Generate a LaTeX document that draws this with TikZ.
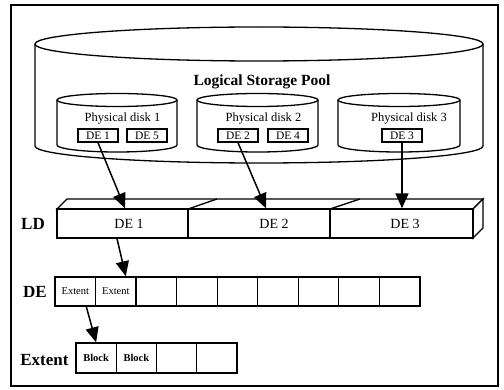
\documentclass[tikz,border=0pt]{standalone}
\usepackage{fontspec}
\setmainfont{Liberation Serif}
\usetikzlibrary{arrows.meta}
\begin{document}
\begin{tikzpicture}[x=1pt,y=-1pt,
        thin line/.style={line width=1.3pt},
        debox/.style={draw,line width=1.4pt,fill=white,inner sep=0pt,minimum width=40pt,minimum height=13pt,font=\fontsize{11.5}{11.5}\selectfont},
        cell/.style={draw,line width=1.3pt,fill=white,inner sep=0pt,minimum width=40.55pt,minimum height=29pt,font=\fontsize{10.5}{10.5}\selectfont},
        blk/.style={cell,minimum width=40.25pt,minimum height=30pt},
        ldcell/.style={draw,line width=1.3pt,fill=white,inner sep=0pt,minimum height=29pt},
        ptr/.style={line width=1.5pt,-{Triangle[length=15pt,width=13pt]}},
        big/.style={font=\fontsize{17}{17}\selectfont\bfseries}]
                \useasboundingbox (0,0) rectangle (504,390) ;
                \draw [line width=1.8pt] (11,5) rectangle (498,386) ;
                % storage pool
                \draw [thin line,fill=white] (35,44) -- (35,146) arc[start angle=180,end angle=360,x radius=224pt,y radius=17pt] -- (483,44) ;
                \draw [thin line,fill=white] (259,44) ellipse[x radius=224pt,y radius=17pt] ;
                \draw (262,82) node [font=\fontsize{15.5}{15.5}\selectfont\bfseries] (pool) {Logical Storage Pool} ;
                % physical disks
                \draw [thin line,fill=white] (57,100) -- (57,145) arc[start angle=180,end angle=360,x radius=60pt,y radius=7pt] -- (177,100) ;
                \draw [thin line,fill=white] (117,100) ellipse[x radius=60pt,y radius=6.5pt] ;
                \draw [thin line,fill=white] (197,100) -- (197,145) arc[start angle=180,end angle=360,x radius=60.5pt,y radius=7pt] -- (318,100) ;
                \draw [thin line,fill=white] (257.5,100) ellipse[x radius=60.5pt,y radius=6.5pt] ;
                \draw [thin line,fill=white] (338,100) -- (338,145) arc[start angle=180,end angle=360,x radius=61pt,y radius=7pt] -- (460,100) ;
                \draw [thin line,fill=white] (399,100) ellipse[x radius=61pt,y radius=6.5pt] ;
                \draw (122.5,119) node [font=\fontsize{12.5}{12.5}\selectfont] (pd1) {Physical disk 1} ;
                \draw (263.5,119) node [font=\fontsize{12.5}{12.5}\selectfont] (pd2) {Physical disk 2} ;
                \draw (409,119) node [font=\fontsize{12.5}{12.5}\selectfont] (pd3) {Physical disk 3} ;
                \draw (98,135.5) node [debox] (d1) {DE 1} ;
                \draw (147,135.5) node [debox] (d5) {DE 5} ;
                \draw (238,135.5) node [debox] (d2) {DE 2} ;
                \draw (288,135.5) node [debox] (d4) {DE 4} ;
                \draw (402,135.5) node [debox] (d3) {DE 3} ;
                % logical disk
                \draw [thin line,fill=white] (57,209) -- (67,199) -- (483,199) -- (473,209) -- cycle ;
                \draw [thin line] (188,209) -- (217,199) ;
                \draw [thin line] (330,209) -- (360,199) ;
                \draw [thin line,fill=white] (473,209) -- (483,199) -- (483,228) -- (473,238) -- cycle ;
                \draw (122.5,223.5) node [ldcell,minimum width=131pt] (ld1) {} ;
                \draw (259,223.5) node [ldcell,minimum width=142pt] (ld2) {} ;
                \draw (401.5,223.5) node [ldcell,minimum width=143pt] (ld3) {} ;
                \draw (129,224) node [font=\fontsize{14}{14}\selectfont] (ldt1) {DE 1} ;
                \draw (274,224) node [font=\fontsize{14}{14}\selectfont] (ldt2) {DE 2} ;
                \draw (405,224) node [font=\fontsize{14}{14}\selectfont] (ldt3) {DE 3} ;
                \draw (33,224) node [big] (ld) {LD} ;
                % data extent
                \draw (75.3,291.5) node [cell] (c1) {Extent} ;
                \draw (115.8,291.5) node [cell] (c2) {Extent} ;
                \draw (156.4,291.5) node [cell] (c3) {} ;
                \draw (196.9,291.5) node [cell] (c4) {} ;
                \draw (237.5,291.5) node [cell] (c5) {} ;
                \draw (278.0,291.5) node [cell] (c6) {} ;
                \draw (318.6,291.5) node [cell] (c7) {} ;
                \draw (359.1,291.5) node [cell] (c8) {} ;
                \draw (399.7,291.5) node [cell] (c9) {} ;
                \draw (35,292) node [big] (de) {DE} ;
                % extent
                \draw (96.1,358) node [blk,font=\fontsize{10.5}{10.5}\selectfont\bfseries] (e1) {Block} ;
                \draw (136.4,358) node [blk,font=\fontsize{10.5}{10.5}\selectfont\bfseries] (e2) {Block} ;
                \draw (176.6,358) node [blk] (e3) {} ;
                \draw (216.9,358) node [blk] (e4) {} ;
                \draw (72,360) node [big,anchor=east] (ext) {Extent} ;
                % pointers
                \draw [ptr] (d1.south) -- ([xshift=2.5pt]ld1.north) ;
                \draw [ptr] (d2.south) -- ([xshift=7pt]ld2.north) ;
                \draw [ptr] (d3.south) -- ([xshift=0.5pt]ld3.north) ;
                \draw [ptr] ([xshift=-5.5pt]ld1.south) -- ([xshift=10pt]c2.north) ;
                \draw [ptr] ([xshift=11pt]c1.south) -- (e1.north) ;
            \end{tikzpicture}
\end{document}
